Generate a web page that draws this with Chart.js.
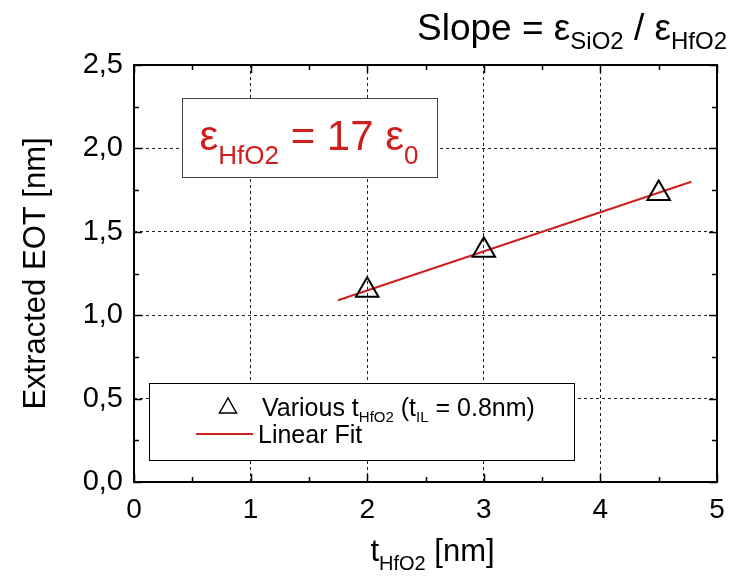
<!DOCTYPE html>
<html>
<head>
<meta charset="utf-8">
<script src="https://cdn.jsdelivr.net/npm/chart.js@4.4.1/dist/chart.umd.min.js"></script>
<style>
  html, body { margin: 0; padding: 0; background: #fff; }
</style>
</head>
<body>
<canvas id="eotChart" width="738" height="579"></canvas>
<script>
// dati
const tHfO2 = [2, 3, 4.5];
const eot = [1.15, 1.39, 1.73];
const fitX = [1.75, 4.78];
const fitY = [1.09, 1.80];
const xTickLabels = ["0", "1", "2", "3", "4", "5"];
const yTickLabels = ["0,0", "0,5", "1,0", "1,5", "2,0", "2,5"];

const FONT = "'Liberation Sans', Arial, sans-serif";
const RED = "#cf1e1e";

// testo con pedici: parts = [[testo, size, dy, color]]
function drawRich(ctx, parts, x, y, align) {
  let w = 0;
  parts.forEach((p) => {
    ctx.font = p[1] + "px " + FONT;
    w += ctx.measureText(p[0]).width;
  });
  let cx = align === "right" ? x - w : align === "center" ? x - w / 2 : x;
  ctx.textAlign = "left";
  ctx.textBaseline = "alphabetic";
  parts.forEach((p) => {
    ctx.font = p[1] + "px " + FONT;
    ctx.fillStyle = p[3] || "#000";
    ctx.fillText(p[0], cx, y + (p[2] || 0));
    cx += ctx.measureText(p[0]).width;
  });
}

const decorPlugin = {
  id: "decor",
  beforeDatasetsDraw(chart) {
    const ctx = chart.ctx;
    ctx.save();
    // riquadro epsilon
    ctx.fillStyle = "#fff";
    ctx.fillRect(182, 98, 255, 79);
    ctx.strokeStyle = "#444";
    ctx.lineWidth = 1;
    ctx.strokeRect(182.5, 98.5, 255, 79);
    drawRich(ctx, [
      ["\u03b5", 42, 0, RED],
      ["HfO2", 26, 14, RED],
      [" = 17 \u03b5", 42, 0, RED],
      ["0", 26, 14, RED],
    ], 309, 150, "center");

    // legenda
    ctx.fillStyle = "#fff";
    ctx.fillRect(149, 383, 425, 77);
    ctx.strokeStyle = "#000";
    ctx.lineWidth = 1;
    ctx.strokeRect(149.5, 383.5, 425, 77);
    ctx.beginPath();
    ctx.moveTo(228, 398);
    ctx.lineTo(236.5, 413);
    ctx.lineTo(219.5, 413);
    ctx.closePath();
    ctx.lineWidth = 1.5;
    ctx.stroke();
    drawRich(ctx, [
      ["Various t", 25, 0],
      ["HfO2", 15, 6],
      [" (t", 25, 0],
      ["IL", 15, 6],
      [" = 0.8nm)", 25, 0],
    ], 262, 416, "left");
    ctx.strokeStyle = RED;
    ctx.lineWidth = 2;
    ctx.beginPath();
    ctx.moveTo(196, 434);
    ctx.lineTo(253, 434);
    ctx.stroke();
    drawRich(ctx, [["Linear Fit", 25, 0]], 258, 443, "left");
    ctx.restore();
  },
  afterDraw(chart) {
    const ctx = chart.ctx;
    const a = chart.chartArea;
    const xs = chart.scales.x;
    const ys = chart.scales.y;
    ctx.save();
    ctx.strokeStyle = "#000";
    ctx.lineWidth = 1.5;
    // tacche interne
    ctx.beginPath();
    for (let v = 0; v <= 5; v += 0.5) {
      const px = Math.round(xs.getPixelForValue(v)) + 0.5;
      const len = Number.isInteger(v) ? 8 : 5;
      ctx.moveTo(px, a.bottom);
      ctx.lineTo(px, a.bottom - len);
      ctx.moveTo(px, a.top);
      ctx.lineTo(px, a.top + len);
    }
    for (let v = 0; v <= 2.5; v += 0.25) {
      const py = Math.round(ys.getPixelForValue(v)) + 0.5;
      const len = Math.abs(v * 2 - Math.round(v * 2)) < 1e-6 ? 8 : 5;
      ctx.moveTo(a.left, py);
      ctx.lineTo(a.left + len, py);
      ctx.moveTo(a.right, py);
      ctx.lineTo(a.right - len, py);
    }
    ctx.stroke();
    // cornice
    ctx.lineWidth = 2;
    ctx.strokeRect(a.left, a.top, a.right - a.left, a.bottom - a.top);

    // titolo e asse x
    drawRich(ctx, [
      ["Slope = \u03b5", 37, 0],
      ["SiO2", 24, 9],
      [" / \u03b5", 37, 0],
      ["HfO2", 24, 9],
    ], 727, 40, "right");
    drawRich(ctx, [
      ["t", 31, 0],
      ["HfO2", 20, 9],
      [" [nm]", 31, 0],
    ], (a.left + a.right) / 2 + 7, 561, "center");
    ctx.restore();
  },
};

new Chart(document.getElementById("eotChart"), {
  type: "scatter",
  data: {
    datasets: [
      {
        label: "Various tHfO2 (tIL = 0.8nm)",
        data: tHfO2.map((x, i) => ({ x, y: eot[i] })),
        pointStyle: "triangle",
        pointRadius: 13,
        pointBackgroundColor: "rgba(0,0,0,0)",
        pointBorderColor: "#000",
        pointBorderWidth: 2,
        showLine: false,
        order: 1,
      },
      {
        label: "Linear Fit",
        data: fitX.map((x, i) => ({ x, y: fitY[i] })),
        showLine: true,
        borderColor: RED,
        borderWidth: 2,
        pointRadius: 0,
        order: 2,
      },
    ],
  },
  options: {
    responsive: false,
    animation: false,
    layout: { padding: { top: 65, right: 21, left: 0, bottom: 0 } },
    plugins: {
      legend: { display: false },
      tooltip: { enabled: false },
    },
    scales: {
      x: {
        type: "linear",
        min: 0,
        max: 5,
        afterFit: (s) => { s.height = 97; },
        ticks: {
          stepSize: 1,
          color: "#000",
          padding: 11,
          maxRotation: 0,
          font: { family: FONT, size: 28 },
          callback: (v, i) => xTickLabels[i],
        },
        grid: { color: "#222", lineWidth: 1, drawTicks: false },
        border: { display: false, dash: [3, 3] },
      },
      y: {
        type: "linear",
        min: 0,
        max: 2.5,
        afterFit: (s) => { s.width = 134; },
        ticks: {
          stepSize: 0.5,
          color: "#000",
          padding: 11,
          font: { family: FONT, size: 29 },
          callback: (v, i) => yTickLabels[i],
        },
        title: {
          display: true,
          text: "Extracted EOT [nm]",
          color: "#000",
          font: { family: FONT, size: 31 },
          padding: { top: 18, bottom: 0 },
        },
        grid: { color: "#222", lineWidth: 1, drawTicks: false },
        border: { display: false, dash: [3, 3] },
      },
    },
  },
  plugins: [decorPlugin],
});
</script>
</body>
</html>
